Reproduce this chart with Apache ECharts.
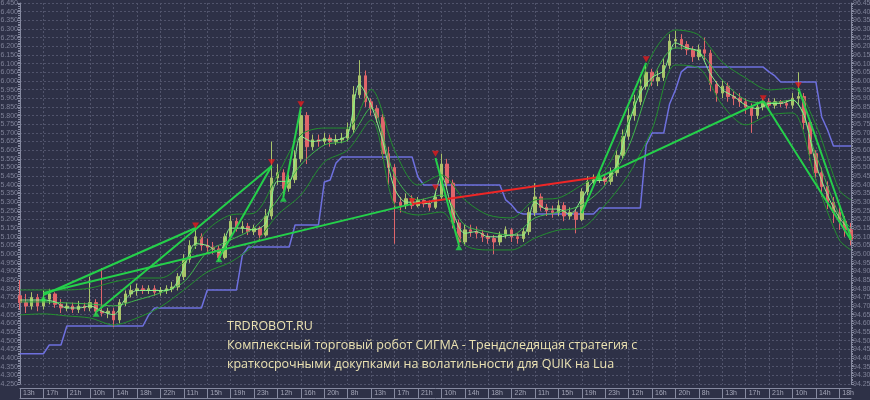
<!DOCTYPE html>
<html><head><meta charset="utf-8">
<script src="https://cdn.jsdelivr.net/npm/echarts@6/dist/echarts.min.js"></script>
<style>html,body{margin:0;padding:0;background:#2e3147;}#c{width:870px;height:400px;}</style>
</head><body><div id="c"></div>
<script>
const tickLabels = ['13h','17h','21h','10h','14h','18h','22h','11h','15h','19h','23h','12h','16h','20h','8h','13h','17h','21h',
  '10h','14h','18h','22h','11h','15h','19h','23h','12h','16h','20h','8h','13h','17h','21h','10h','14h','18h'];

const opens = [94.76,94.72,94.70,94.75,94.70,94.74,94.77,94.71,94.69,94.70,
94.68,94.70,94.69,94.72,94.67,94.66,94.67,94.62,94.72,94.77,
94.79,94.80,94.79,94.80,94.78,94.79,94.80,94.81,94.87,94.97,
95.05,95.10,95.05,95.04,95.03,94.98,95.10,95.19,95.15,95.16,
95.13,95.15,95.11,95.22,95.44,95.47,95.38,95.43,95.55,95.80,
95.62,95.66,95.65,95.67,95.65,95.66,95.67,95.72,95.92,96.03,
95.88,95.84,95.79,95.58,95.50,95.30,95.28,95.32,95.28,95.31,
95.29,95.27,95.33,95.52,95.41,95.18,95.07,95.14,95.13,95.12,
95.10,95.09,95.07,95.11,95.14,95.10,95.09,95.13,95.24,95.33,
95.27,95.25,95.24,95.28,95.22,95.24,95.20,95.36,95.42,95.43,
95.44,95.42,95.47,95.57,95.68,95.80,95.88,95.97,96.05,96.00,
96.02,96.09,96.23,96.24,96.21,96.18,96.14,96.18,96.16,95.98,
95.93,95.97,95.91,95.90,95.88,95.85,95.80,95.85,95.88,95.86,
95.88,95.87,95.86,95.90,95.91,95.76,95.58,95.47,95.39,95.30,
95.24,95.19,95.14];
const closes = [94.72,94.70,94.75,94.70,94.74,94.77,94.71,94.69,94.70,94.68,
94.70,94.69,94.72,94.67,94.66,94.67,94.62,94.72,94.77,94.79,
94.80,94.79,94.80,94.78,94.79,94.80,94.81,94.87,94.97,95.05,
95.10,95.05,95.04,95.03,94.98,95.10,95.19,95.15,95.16,95.13,
95.15,95.11,95.22,95.44,95.47,95.38,95.43,95.55,95.80,95.62,
95.66,95.65,95.67,95.65,95.66,95.67,95.72,95.92,96.03,95.88,
95.84,95.79,95.58,95.50,95.30,95.28,95.32,95.28,95.31,95.29,
95.27,95.33,95.52,95.41,95.18,95.07,95.14,95.13,95.12,95.10,
95.09,95.07,95.11,95.14,95.10,95.09,95.13,95.24,95.33,95.27,
95.25,95.24,95.28,95.22,95.24,95.20,95.36,95.42,95.43,95.44,
95.42,95.47,95.57,95.68,95.80,95.88,95.97,96.05,96.00,96.02,
96.09,96.23,96.24,96.21,96.18,96.14,96.18,96.16,95.98,95.93,
95.97,95.91,95.90,95.88,95.85,95.80,95.85,95.88,95.86,95.88,
95.87,95.86,95.90,95.91,95.76,95.58,95.47,95.39,95.30,95.24,
95.19,95.14,95.085];
const lows = [94.68,94.66,94.68,94.67,94.68,94.71,94.69,94.66,94.67,94.66,
94.66,94.67,94.67,94.65,94.64,94.63,94.58,94.60,94.70,94.75,
94.76,94.77,94.77,94.76,94.76,94.77,94.78,94.79,94.85,94.95,
95.03,95.02,95.00,95.00,94.96,94.97,95.08,95.13,95.12,95.11,
95.11,95.08,95.10,95.20,95.40,95.33,95.36,95.41,95.53,95.52,
95.60,95.62,95.63,95.62,95.63,95.64,95.65,95.70,95.90,95.85,
95.80,95.76,95.55,95.40,95.06,95.24,95.26,95.26,95.27,95.27,
95.25,95.26,95.31,95.38,95.15,95.04,95.05,95.10,95.09,95.07,
95.06,95.00,95.05,95.09,95.07,95.06,95.07,95.11,95.22,95.25,
95.22,95.21,95.22,95.19,95.20,95.12,95.19,95.34,95.40,95.41,
95.40,95.40,95.45,95.55,95.66,95.77,95.86,95.95,95.97,95.97,
96.00,96.07,96.19,96.18,96.15,96.11,96.12,96.12,95.94,95.88,
95.90,95.88,95.86,95.85,95.81,95.70,95.78,95.83,95.84,95.84,
95.85,95.84,95.84,95.86,95.72,95.54,95.43,95.33,95.26,95.18,
95.14,95.10,95.05];
const highs = [94.85,94.77,94.78,94.77,94.79,94.80,94.78,94.74,94.72,94.72,
94.73,94.72,94.87,94.74,94.92,94.69,94.69,94.74,94.79,94.82,
94.83,94.82,94.82,94.82,94.81,94.82,94.84,94.89,95.00,95.08,
95.16,95.12,95.09,95.07,95.05,95.12,95.22,95.21,95.19,95.18,
95.17,95.16,95.26,95.65,95.52,95.49,95.46,95.60,95.85,95.82,
95.69,95.69,95.70,95.69,95.69,95.70,95.76,95.97,96.12,96.06,
95.90,95.86,95.81,95.62,95.52,95.33,95.35,95.34,95.33,95.32,
95.31,95.36,95.58,95.55,95.43,95.20,95.17,95.17,95.16,95.14,
95.12,95.11,95.13,95.16,95.15,95.12,95.15,95.27,95.41,95.35,
95.29,95.28,95.31,95.30,95.27,95.26,95.38,95.45,95.46,95.47,
95.46,95.50,95.60,95.72,95.84,95.92,96.01,96.10,96.07,96.06,
96.13,96.27,96.29,96.27,96.23,96.20,96.21,96.25,96.18,96.00,
96.00,95.99,95.94,95.93,95.90,95.87,95.88,95.90,95.90,95.90,
95.89,95.89,95.93,96.05,95.93,95.78,95.60,95.50,95.42,95.33,
95.27,95.22,95.18];

const stopLine = [94.424,94.424,94.424,94.424,94.424,94.475,94.475,94.475,94.585,94.585,
94.585,94.585,94.585,94.585,94.585,94.585,94.585,94.585,94.585,94.585,
94.585,94.585,94.649,94.689,94.689,94.689,94.689,94.689,94.689,94.689,
94.689,94.689,94.793,94.793,94.793,94.793,94.793,94.793,94.995,95.041,
95.041,95.041,95.041,95.041,95.041,95.041,95.041,95.168,95.168,95.168,
95.168,95.168,95.416,95.428,95.526,95.561,95.561,95.561,95.561,95.561,
95.561,95.561,95.561,95.561,95.561,95.561,95.561,95.561,95.445,95.399,
95.399,95.399,95.399,95.399,95.399,95.399,95.399,95.399,95.399,95.399,
95.399,95.399,95.399,95.313,95.284,95.243,95.232,95.232,95.232,95.232,
95.232,95.232,95.232,95.232,95.232,95.232,95.232,95.232,95.232,95.266,
95.266,95.266,95.266,95.266,95.266,95.266,95.266,95.630,95.699,95.699,
95.699,95.867,95.948,96.052,96.080,96.080,96.080,96.080,96.080,96.080,
96.080,96.080,96.080,96.080,96.080,96.080,96.080,96.080,96.052,96.029,
95.994,95.994,95.994,95.994,95.994,95.994,95.994,95.792,95.717,95.624,
95.624,95.624,95.624];

const bandIdx = [0,4,8,12,16,20,24,28,32,36,40,44,48,52,56,60,64,68,72,76,80,84,88,92,96,100,104,108,112,116,120,124,128,132,136,140,142];
const bandUpper = [94.793,94.793,94.793,94.804,94.839,94.862,94.862,94.954,95.139,95.226,95.237,95.457,95.688,95.728,95.728,95.950,95.601,95.399,95.457,95.313,95.226,95.209,95.313,95.324,95.399,95.486,95.770,96.150,96.294,96.265,96.109,96.017,95.948,95.959,95.746,95.370,95.313];
const bandMid = [94.724,94.724,94.718,94.712,94.701,94.735,94.776,94.839,95.012,95.082,95.151,95.313,95.515,95.630,95.659,95.844,95.457,95.313,95.341,95.168,95.128,95.110,95.209,95.243,95.284,95.399,95.620,96.005,96.190,96.167,96.005,95.890,95.873,95.890,95.572,95.226,95.151];
const bandLower = [94.649,94.655,94.643,94.631,94.591,94.631,94.695,94.793,94.897,94.954,95.053,95.226,95.341,95.532,95.601,95.774,95.284,95.226,95.243,95.053,95.024,95.024,95.093,95.139,95.151,95.284,95.460,95.720,96.092,96.075,95.861,95.746,95.803,95.815,95.428,95.082,95.024];

const fastLine = [94.735,94.735,94.735,94.724,94.689,94.689,94.70,94.67,94.65,94.74,
94.79,94.79,94.79,94.80,94.92,95.06,95.05,95.01,95.15,95.15,
95.14,95.18,95.42,95.42,95.68,95.65,95.66,95.66,95.69,95.98,
95.86,95.65,95.38,95.30,95.30,95.29,95.45,95.24,95.12,95.13,
95.10,95.10,95.11,95.11,95.30,95.26,95.26,95.23,95.32,95.42,
95.43,95.52,95.75,95.93,96.02,96.06,96.22,96.19,96.17,96.04,
95.95,95.91,95.86,95.84,95.87,95.87,95.89,95.80,95.52,95.34,
95.21,95.13];

const trendGreenA = [[4,94.776],[67,95.290]];
const trendRed = [[67,95.290],[99,95.445]];
const trendGreenB = [[99,95.445],[127,95.884],[142,95.082]];
const zigzag1 = [[4,94.764],[30,95.151]];
const zigzag2 = [[13,94.666],[43,95.509]];
const zigzag3 = [[34,94.978],[43,95.509]];
const zigzag4 = [[45,95.330],[48,95.850]];
const zigzag5 = [[71,95.555],[75,95.053]];
const zigzag6 = [[96,95.237],[107,96.104]];
const zigzag7 = [[133,95.959],[142,95.093]];

const sellMarks = [[30,95.165],[43,95.530],[48,95.865],[67,95.305],[71,95.580],[71,95.385],[107,96.125],[127,95.900],[133,95.975]];
const buyMarks = [[4,94.745],[13,94.655],[34,94.970],[45,95.320],[75,95.040],[99,95.445]];

const overlayText = ['TRDROBOT.RU',
  'Комплексный торговый робот СИГМА - Трендследящая стратегия с',
  'краткосрочными докупками на волатильности для QUIK на Lua'];

const categories = closes.map((_, i) => (i % 4 === 0 && tickLabels[i / 4]) ? tickLabels[i / 4] : '');
const candles = closes.map((c, i) => [opens[i], c, lows[i], highs[i]]);
const pairs = (idx, vals) => vals.map((v, k) => [idx[k], v]);
const fastPairs = fastLine.map((v, k) => [k * 2, v]);

const axisCol = '#868aa0';
function yAx(pos) {
  return {
    type: 'value', position: pos, min: 94.25, max: 96.45, interval: 0.05,
    axisLine: { show: true, lineStyle: { color: axisCol } },
    axisTick: { show: true, length: 3, lineStyle: { color: axisCol } },
    minorTick: { show: true, splitNumber: 5, length: 2, lineStyle: { color: axisCol } },
    axisLabel: { fontSize: 7, color: '#7f8298', margin: 2, fontFamily: 'Liberation Sans', formatter: v => v.toFixed(3) },
    splitLine: { show: pos === 'left', lineStyle: { color: '#51546c', type: [2, 2] } },
    minorSplitLine: { show: false }
  };
}
const lineS = (data, color, width, z) => ({ type: 'line', data, symbol: 'none', smooth: false, z: z || 3,
  lineStyle: { color, width }, silent: true, animation: false });

const chart = echarts.init(document.getElementById('c'));
chart.setOption({
  backgroundColor: '#2e3147',
  animation: false,
  grid: { left: 20, right: 19, top: 3, bottom: 16, containLabel: false, outerBoundsMode: 'none' },
  xAxis: [{
    type: 'category', data: categories, boundaryGap: false, offset: 4,
    axisLine: { lineStyle: { color: axisCol } },
    axisTick: { show: true, interval: 3, length: 10, lineStyle: { color: axisCol } },
    axisLabel: { interval: 3, align: 'left', fontSize: 7, color: '#a4a6b8', margin: 2, padding: [0, 0, 0, 3], fontFamily: 'Liberation Sans' },
    splitLine: { show: true, interval: 3, lineStyle: { color: '#51546c', type: [2, 2] } }
  }, {
    type: 'category', data: categories, boundaryGap: false, position: 'bottom', offset: 14,
    axisLine: { show: true, lineStyle: { color: axisCol } },
    axisTick: { show: false }, axisLabel: { show: false }, splitLine: { show: false }
  }],
  yAxis: [yAx('left'), yAx('right')],
  graphic: [{
    type: 'text', left: 227, top: 317, z: 100,
    style: { text: overlayText.join('\n'), fill: '#ebe2b2', fontSize: 12.5, fontFamily: 'Open Sans', lineHeight: 19 }
  }],
  series: [
    lineS(stopLine, '#6e70de', 1.5, 2),
    { type: 'candlestick', data: candles, barWidth: 3, z: 3, silent: true,
      itemStyle: { color: '#a9c46a', color0: '#e0656a', borderColor: '#a9c46a', borderColor0: '#e0656a', borderWidth: 1 },
      markLine: { symbol: 'none', silent: true, lineStyle: { opacity: 0 },
        label: { position: 'end', distance: 2, formatter: closes[closes.length - 1].toFixed(3), fontSize: 7,
          color: '#bde9ff', backgroundColor: '#245e86', padding: [1, 2], fontFamily: 'Liberation Sans' },
        data: [{ yAxis: closes[closes.length - 1] }] } },
    Object.assign(lineS(pairs(bandIdx, bandUpper), '#23902f', 1, 4), { smooth: 0.3 }),
    Object.assign(lineS(pairs(bandIdx, bandMid), '#3fb84a', 1, 4), { smooth: 0.3 }),
    Object.assign(lineS(pairs(bandIdx, bandLower), '#23902f', 1, 4), { smooth: 0.3 }),
    Object.assign(lineS(fastPairs, '#8af58a', 1, 5), { smooth: 0.3 }),
    lineS(trendGreenA, '#25d04a', 2, 6),
    lineS(trendRed, '#ee2626', 2, 6),
    lineS(trendGreenB, '#25d04a', 2, 6),
    lineS(zigzag1, '#25d04a', 2, 6),
    lineS(zigzag2, '#25d04a', 2, 6),
    lineS(zigzag3, '#25d04a', 2, 6),
    lineS(zigzag4, '#25d04a', 2, 6),
    lineS(zigzag5, '#25d04a', 2, 6),
    lineS(zigzag6, '#25d04a', 2, 6),
    lineS(zigzag7, '#25d04a', 2, 6),
    { type: 'scatter', data: sellMarks, symbol: 'triangle', symbolRotate: 180, symbolSize: [7, 6], z: 7, silent: true,
      itemStyle: { color: '#e41c1c' } },
    { type: 'scatter', data: buyMarks, symbol: 'triangle', symbolSize: [7, 6], z: 7, silent: true,
      itemStyle: { color: '#22e04a' } }
  ]
});
</script></body></html>
